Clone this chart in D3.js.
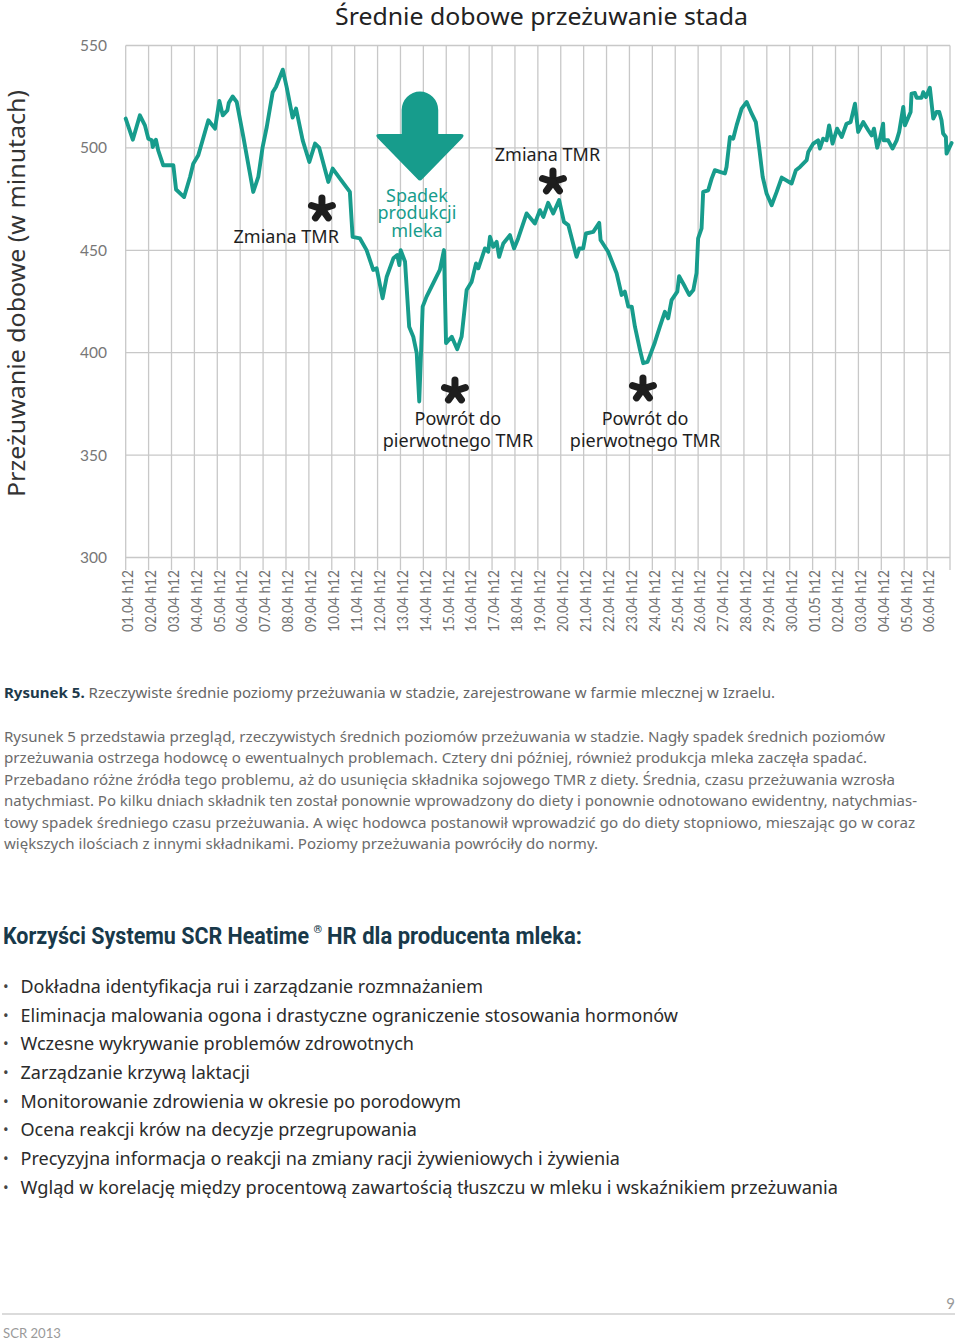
<!DOCTYPE html>
<html><head><meta charset="utf-8">
<script src="https://cdn.jsdelivr.net/npm/d3@7"></script>
<style>html,body{margin:0;padding:0;background:#fff;} svg{display:block;}</style>
</head><body>
<script>
// ---------- DATA ----------
const dayLabels = ["01.04 h12","02.04 h12","03.04 h12","04.04 h12","05.04 h12","06.04 h12","07.04 h12","08.04 h12","09.04 h12","10.04 h12","11.04 h12","12.04 h12","13.04 h12","14.04 h12","15.04 h12","16.04 h12","17.04 h12","18.04 h12","19.04 h12","20.04 h12","21.04 h12","22.04 h12","23.04 h12","24.04 h12","25.04 h12","26.04 h12","27.04 h12","28.04 h12","29.04 h12","30.04 h12","01.05 h12","02.04 h12","03.04 h12","04.04 h12","05.04 h12","06.04 h12"];
const yTickValues = [300, 350, 400, 450, 500, 550];
const dayPos = [0,0.31,0.62,0.84,0.99,1.14,1.18,1.32,1.42,1.64,
2.08,2.20,2.55,2.81,2.95,3.17,3.61,3.90,4.09,4.24,
4.44,4.50,4.67,4.85,5.14,5.40,5.57,5.79,5.98,6.16,
6.42,6.56,6.86,7.03,7.29,7.44,7.73,8.02,8.27,8.45,
8.85,9.04,9.36,9.79,9.91,10.23,10.52,10.81,10.96,11.22,
11.40,11.69,11.86,11.95,12.01,12.20,12.38,12.56,12.71,12.82,
12.97,13.14,13.72,13.90,13.99,14.24,14.48,14.67,14.89,15.11,
15.30,15.40,15.69,15.83,15.91,16.05,16.20,16.31,16.49,16.78,
16.96,17.14,17.51,17.87,18.09,18.24,18.45,18.67,18.93,19.14,
19.33,19.69,19.81,19.98,20.10,20.42,20.68,20.74,21.07,21.44,
21.66,21.80,21.95,22.10,22.24,22.46,22.60,22.79,23.11,23.33,
23.55,23.69,23.84,24.09,24.17,24.42,24.61,24.79,24.93,25.00,
25.15,25.22,25.44,25.59,25.73,25.95,26.17,26.24,26.39,26.53,
26.68,26.90,27.12,27.34,27.52,27.67,27.82,27.99,28.21,28.43,
28.65,29.08,29.27,29.45,29.74,29.81,30.03,30.24,30.32,30.46,
30.61,30.72,30.87,31.07,31.27,31.48,31.66,31.85,31.99,32.21,
32.43,32.58,32.68,32.82,32.94,33.08,33.11,33.30,33.49,33.67,
33.78,33.96,34.03,34.28,34.32,34.47,34.54,34.76,34.83,34.95,
35.12,35.27,35.41,35.53,35.63,35.70,35.82,35.85,36.07];
const chewing = [514.3,504,515.9,511,504.5,503.7,500.4,504,498.8,491.5,
491.5,479.7,476,485.8,492.3,496.4,513.5,509.4,522.9,515.9,
518.3,521.9,525.1,522.4,505.3,489.1,478.5,485.8,500.4,510.2,
527.2,529.7,538.2,529.7,514.8,519.2,503.7,493.1,502.1,500.1,
483.4,489.9,485,478.5,456.6,455.8,450.1,440.4,441.2,426.6,
437.1,446.1,447.7,442.8,450.1,444.4,412.7,407.8,399.8,376.2,
422.5,427.4,440.4,450.1,404.7,407.8,401.7,407.8,430.6,434.7,
443.6,441.2,450.9,449.3,456.6,451.7,454.1,446.8,453.3,457.4,
450.9,455.8,468,463.1,469.6,466.3,473.2,468,474.5,463.9,
462.3,446.8,450.9,450.9,458.2,459,463.4,455,449.3,438.8,
428.2,429.8,422.5,422.5,412.7,401.4,394.9,395.5,405,412.7,
420,416.8,425.7,429.8,437.4,432.3,428.2,430.6,438.8,455.8,
460.7,478.5,479.3,485,489.1,488.3,487.5,490.7,505.3,504.5,
511,519.2,522.4,516.7,512.6,499.7,485.8,477.7,472,478.5,
485.5,482.6,489.1,490.7,494,498,502.1,503.7,499.7,504.5,
503.7,511,502.1,509.4,505.3,511.8,512.6,521.6,507.8,512.6,
508.6,506.1,509.4,500.1,504.5,511.8,503.7,503.7,499.7,503.7,
507.8,520,511,517.5,526.5,526.8,524.5,524.5,527.2,524.8,
529.4,514.3,517.5,517.5,513.5,507,505.3,497.2,502.4];

const chartTitle = "Średnie dobowe przeżuwanie stada";
const yTitle = "Przeżuwanie dobowe (w minutach)";

// annotation anchors in data coordinates [day, value]
const asterisks = [[8.57, 470.2],[18.66, 483.4],[14.38, 381.3],[22.59, 382.3]];
const noteTexts = [
  {day: 7.01, value: 453.4, lines: ["Zmiana TMR"], color: "#1e1e1e"},
  {day: 18.42, value: 493.7, lines: ["Zmiana TMR"], color: "#1e1e1e"},
  {day: 14.51, value: 364.7, lines: ["Powrót do", "pierwotnego TMR"], color: "#1e1e1e", lh: 22},
  {day: 22.68, value: 364.7, lines: ["Powrót do", "pierwotnego TMR"], color: "#1e1e1e", lh: 22},
  {day: 12.72, value: 473.7, lines: ["Spadek", "produkcji", "mleka"], color: "#179c8c", lh: 17.6}
];
const arrowAnchor = {day: 12.85, top: 527.5, tip: 483.8};

const captionBold = "Rysunek 5.";
const captionRest = " Rzeczywiste średnie poziomy przeżuwania w stadzie, zarejestrowane w farmie mlecznej w Izraelu.";
const paragraph = [
 "Rysunek 5 przedstawia przegląd, rzeczywistych średnich poziomów przeżuwania w stadzie. Nagły spadek średnich poziomów",
 "przeżuwania ostrzega hodowcę o ewentualnych problemach. Cztery dni później, również produkcja mleka zaczęła spadać.",
 "Przebadano różne źródła tego problemu, aż do usunięcia składnika sojowego TMR  z diety. Średnia, czasu przeżuwania wzrosła",
 "natychmiast. Po kilku dniach składnik ten został ponownie wprowadzony do diety i ponownie odnotowano ewidentny, natychmias-",
 "towy spadek średniego czasu przeżuwania. A więc hodowca postanowił wprowadzić go do diety stopniowo, mieszając go w coraz",
 "większych ilościach z innymi składnikami. Poziomy przeżuwania powróciły do normy."
];
const paragraphWidths = [881, 863, 891, 913, 911, 594];
const headingMain = "Korzyści Systemu SCR Heatime";
const headingMark = "®";
const headingTail = "HR dla producenta mleka:";
const bullets = [
 "Dokładna identyfikacja rui i zarządzanie rozmnażaniem",
 "Eliminacja malowania ogona i drastyczne ograniczenie stosowania hormonów",
 "Wczesne wykrywanie problemów zdrowotnych",
 "Zarządzanie krzywą laktacji",
 "Monitorowanie zdrowienia w okresie po porodowym",
 "Ocena reakcji krów na decyzje przegrupowania",
 "Precyzyjna informacja o reakcji na zmiany racji żywieniowych i żywienia",
 "Wgląd w  korelację między procentową zawartością tłuszczu w mleku i wskaźnikiem przeżuwania"
];
const bulletWidths = [462.5, 657.5, 393.5, 229.5, 440.5, 396.5, 599.5, 817.5];

// ---------- DRAW ----------
const W = 960, H = 1341;
const teal = "#179c8c";
const grid = "#c8c8c8";
const svg = d3.select("body").append("svg").attr("width", W).attr("height", H);
svg.append("rect").attr("width", W).attr("height", H).attr("fill", "#fff");

const x = d3.scaleLinear().domain([0, 36]).range([125.7, 950]);
const y = d3.scaleLinear().domain([300, 550]).range([557.5, 45.5]);

// vertical grid
svg.append("g").selectAll("line").data(d3.range(0, 37)).join("line")
  .attr("x1", d => x(d)).attr("x2", d => x(d))
  .attr("y1", y(550)).attr("y2", y(300) + 12.5)
  .attr("stroke", grid).attr("stroke-width", 1.3);
// horizontal grid
svg.append("g").selectAll("line").data(yTickValues).join("line")
  .attr("x1", x(0)).attr("x2", x(36))
  .attr("y1", d => y(d)).attr("y2", d => y(d))
  .attr("stroke", grid).attr("stroke-width", 1.3);

// y tick labels
svg.append("g").selectAll("text").data(yTickValues).join("text")
  .attr("x", 80).attr("y", d => y(d)).attr("dy", "0.36em")
  .attr("font-family", "Lato").attr("font-size", 15.5).attr("fill", "#777")
  .text(d => d);

// x tick labels
svg.append("g").selectAll("text").data(dayLabels).join("text")
  .attr("transform", (d, i) => `translate(${x(i) + 7.3},${y(300) + 12.5}) rotate(-90)`)
  .attr("text-anchor", "end")
  .attr("font-family", "Lato").attr("font-size", 14.5).attr("fill", "#737373")
  .attr("textLength", 62).attr("lengthAdjust", "spacingAndGlyphs")
  .text(d => d);

// titles
svg.append("text").attr("x", 541.5).attr("y", 25).attr("text-anchor", "middle")
  .attr("font-family", "Noto Sans").attr("font-size", 24).attr("fill", "#222")
  .attr("textLength", 413).attr("lengthAdjust", "spacingAndGlyphs")
  .text(chartTitle);
svg.append("text").attr("transform", "translate(25,293.5) rotate(-90)").attr("text-anchor", "middle")
  .attr("font-family", "Noto Sans").attr("font-size", 24).attr("fill", "#333")
  .attr("textLength", 407).attr("lengthAdjust", "spacingAndGlyphs")
  .text(yTitle);

// data line
const line = d3.line().x(d => x(d[0])).y(d => y(d[1]));
svg.append("path").datum(dayPos.map((d, i) => [d, chewing[i]]))
  .attr("d", line).attr("fill", "none").attr("stroke", teal)
  .attr("stroke-width", 3.9).attr("stroke-linejoin", "round").attr("stroke-linecap", "round");

// arrow
{
  const cx = x(arrowAnchor.day), top = y(arrowAnchor.top), tip = y(arrowAnchor.tip);
  const hw = 18.3, r = hw, neck = top + 42.5, wing = 43.5;
  const p = `M${cx - hw},${top + r} A${r},${r} 0 0 1 ${cx + hw},${top + r} L${cx + hw},${neck}
    L${cx + wing - 3},${neck} Q${cx + wing + 2},${neck} ${cx + wing - 1},${neck + 4}
    L${cx + 2.5},${tip - 2} Q${cx},${tip + 1} ${cx - 2.5},${tip - 2}
    L${cx - wing + 1},${neck + 4} Q${cx - wing - 2},${neck} ${cx - wing + 3},${neck}
    L${cx - hw},${neck} Z`;
  svg.append("path").attr("d", p).attr("fill", teal);
}

// asterisks
const astG = svg.append("g");
asterisks.forEach(([d, v]) => {
  const cx = x(d), cy = y(v);
  const g = astG.append("g").attr("transform", `translate(${cx},${cy})`);
  [-90, -18, -162, 54, 126].forEach(a => {
    const rad = a * Math.PI / 180;
    g.append("line").attr("x1", 0).attr("y1", 0)
      .attr("x2", Math.cos(rad) * 11).attr("y2", Math.sin(rad) * 11)
      .attr("stroke", "#1e1e1e").attr("stroke-width", 7).attr("stroke-linecap", "round");
  });
});

// annotation texts
noteTexts.forEach(n => {
  n.lines.forEach((l, i) => {
    svg.append("text").attr("text-anchor", "middle")
      .attr("font-family", "Noto Sans").attr("font-size", 18).attr("fill", n.color)
      .attr("x", x(n.day)).attr("y", y(n.value) + i * (n.lh || 22)).text(l);
  });
});

// ---------- BODY TEXT ----------
const cap = svg.append("text").attr("x", 4).attr("y", 698)
  .attr("font-family", "Noto Sans").attr("font-size", 15)
  .attr("textLength", 771).attr("lengthAdjust", "spacingAndGlyphs");
cap.append("tspan").attr("font-weight", "bold").attr("fill", "#1d3a4b").text(captionBold);
cap.append("tspan").attr("fill", "#666").text(captionRest);

svg.append("g").selectAll("text").data(paragraph).join("text")
  .attr("x", 4).attr("y", (d, i) => 742 + i * 21.4)
  .attr("font-family", "Noto Sans").attr("font-size", 15).attr("fill", "#6b6b6b")
  .attr("textLength", (d, i) => paragraphWidths[i]).attr("lengthAdjust", "spacingAndGlyphs")
  .text(d => d);

const hdStyle = s => s.attr("font-family", "Roboto").attr("font-weight", "bold")
  .attr("fill", "#18394a").attr("lengthAdjust", "spacingAndGlyphs");
hdStyle(svg.append("text")).attr("x", 3).attr("y", 944).attr("font-size", 24)
  .attr("textLength", 306).text(headingMain);
hdStyle(svg.append("text")).attr("x", 313.5).attr("y", 933).attr("font-size", 11)
  .text(headingMark);
hdStyle(svg.append("text")).attr("x", 327).attr("y", 944).attr("font-size", 24)
  .attr("textLength", 255).text(headingTail);

const bulletG = svg.append("g");
bullets.forEach((b, i) => {
  const by = 993 + i * 28.65;
  bulletG.append("text").attr("x", 3).attr("y", by - 1)
    .attr("font-family", "Noto Sans").attr("font-size", 15).attr("fill", "#444").text("•");
  bulletG.append("text").attr("x", 20.5).attr("y", by)
    .attr("font-family", "Noto Sans").attr("font-size", 18).attr("fill", "#2b2b2b")
    .attr("textLength", bulletWidths[i]).attr("lengthAdjust", "spacingAndGlyphs")
    .text(b);
});

// footer
svg.append("line").attr("x1", 2).attr("x2", 955).attr("y1", 1314).attr("y2", 1314)
  .attr("stroke", "#cfcfcf").attr("stroke-width", 1.6);
svg.append("text").attr("x", 955).attr("y", 1309).attr("text-anchor", "end")
  .attr("font-family", "Lato").attr("font-size", 15).attr("fill", "#9a9a9a").text("9");
svg.append("text").attr("x", 3).attr("y", 1338)
  .attr("font-family", "Lato").attr("font-size", 14).attr("fill", "#9a9a9a")
  .attr("textLength", 58).attr("lengthAdjust", "spacingAndGlyphs").text("SCR 2013");
</script>
</body></html>
